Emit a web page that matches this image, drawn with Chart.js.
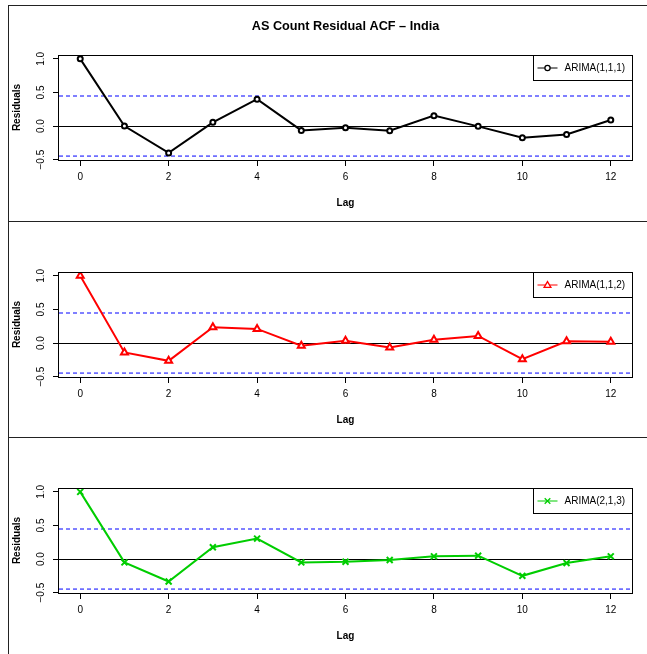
<!DOCTYPE html>
<html lang="en">
<head>
<meta charset="UTF-8">
<title>AS Count Residual ACF – India</title>
<script src="https://cdn.jsdelivr.net/npm/chart.js@4"></script>
<style>
  body { margin: 0; background: #fff; }
  #page { position: relative; width: 647px; height: 654px; overflow: hidden; background: #fff; }
  canvas { position: absolute; left: 0; }
  .rule { position: absolute; background: #222; }
</style>
</head>
<body>
<div id="page">
  <canvas id="acf1" width="647" height="216" style="top:5px"></canvas>
  <canvas id="acf2" width="647" height="216" style="top:222px"></canvas>
  <canvas id="acf3" width="647" height="216" style="top:438px"></canvas>
  <div class="rule" style="left:8px;top:5px;width:639px;height:1px"></div>
  <div class="rule" style="left:8px;top:5px;width:1px;height:649px"></div>
  <div class="rule" style="left:8px;top:221px;width:639px;height:1px"></div>
  <div class="rule" style="left:8px;top:437px;width:639px;height:1px"></div>
</div>
<script>
// --- data ---
const chartTitle = "AS Count Residual ACF – India";
const lags = [0, 1, 2, 3, 4, 5, 6, 7, 8, 9, 10, 11, 12];
const acfArima111 = [1.0, 0.0, -0.40, 0.055, 0.40, -0.065, -0.025, -0.07, 0.155, -0.005, -0.175, -0.125, 0.09];
const acfArima112 = [1.0, -0.14, -0.265, 0.235, 0.21, -0.04, 0.035, -0.065, 0.05, 0.105, -0.24, 0.025, 0.02];
const acfArima213 = [1.0, -0.05, -0.335, 0.175, 0.305, -0.05, -0.04, -0.015, 0.04, 0.05, -0.25, -0.06, 0.04];
const seriesLabels = ["ARIMA(1,1,1)", "ARIMA(1,1,2)", "ARIMA(2,1,3)"];
const confLimit = 0.447;
const xTicks = [0, 2, 4, 6, 8, 10, 12];
const yTicks = [-0.5, 0, 0.5, 1.0];

const FONT = "'Liberation Sans', Arial, Helvetica, sans-serif";
// R style axis ranges (4% extension)
const xMin = -0.48, xMax = 12.48;
const yMin = -0.5056, yMax = 1.0576;

// draw the frame round the plot region, like R's box()
const boxPlugin = {
	id: "plotBox",
	afterDraw(chart) {
		const { ctx, chartArea: a } = chart;
		ctx.save();
		ctx.strokeStyle = "#000";
		ctx.lineWidth = 1;
		ctx.strokeRect(a.left - 0.5, a.top + 0.5, a.right - a.left + 1, a.bottom - a.top);
		ctx.restore();
	},
};

function drawMarker(ctx, style, x, y, color) {
	ctx.save();
	ctx.strokeStyle = color;
	ctx.lineWidth = 1.3;
	ctx.beginPath();
	if (style === "circle") {
		ctx.fillStyle = "#fff";
		ctx.arc(x, y, 2.6, 0, Math.PI * 2);
		ctx.fill();
	} else if (style === "triangle") {
		ctx.fillStyle = "#fff";
		ctx.moveTo(x, y - 3.4);
		ctx.lineTo(x + 3.4, y + 2.4);
		ctx.lineTo(x - 3.4, y + 2.4);
		ctx.closePath();
		ctx.fill();
	} else {
		ctx.moveTo(x - 2.8, y - 2.8);
		ctx.lineTo(x + 2.8, y + 2.8);
		ctx.moveTo(x + 2.8, y - 2.8);
		ctx.lineTo(x - 2.8, y + 2.8);
	}
	ctx.stroke();
	ctx.restore();
}

// R style boxed legend in the top right corner of the plot
const boxLegendPlugin = {
	id: "boxLegend",
	afterDatasetsDraw(chart, args, opts) {
		const { ctx, chartArea: a } = chart;
		ctx.save();
		ctx.font = opts.fontSize + "px " + FONT;
		const tw = ctx.measureText(opts.text).width;
		const w = 26 + 5 + tw + 7;
		const h = 25;
		const left = Math.round(a.right - w) + 0.5;
		const top = a.top + 0.5;
		ctx.fillStyle = "#fff";
		ctx.fillRect(left, top, a.right + 0.5 - left, h);
		ctx.strokeStyle = "#000";
		ctx.lineWidth = 1;
		ctx.strokeRect(left, top, a.right + 0.5 - left, h);
		const cy = Math.round(top + h / 2);
		ctx.strokeStyle = opts.color;
		ctx.beginPath();
		ctx.moveTo(left + 4, cy);
		ctx.lineTo(left + 24, cy);
		ctx.stroke();
		drawMarker(ctx, opts.pointStyle, left + 14, cy, opts.color);
		ctx.fillStyle = "#000";
		ctx.textAlign = "left";
		ctx.textBaseline = "middle";
		ctx.fillText(opts.text, left + 31, cy);
		ctx.restore();
	},
};

function limitLine(y) {
	return {
		data: [{ x: xMin, y }, { x: xMax, y }],
		borderColor: "#0000ff",
		borderWidth: 1,
		borderDash: [4, 3],
		pointRadius: 0,
	};
}

function makeChart(id, values, label, color, pointStyle, pointRadius, showTitle) {
	return new Chart(document.getElementById(id), {
		type: "line",
		data: {
			datasets: [
				{
					label,
					data: lags.map((x, i) => ({ x, y: values[i] })),
					borderColor: color,
					borderWidth: 2,
					pointStyle,
					pointRadius,
					pointBorderWidth: 2,
					pointBorderColor: color,
					pointBackgroundColor: "#fff",
					tension: 0,
				},
				limitLine(confLimit),
				limitLine(-confLimit),
			],
		},
		options: {
			responsive: false,
			animation: false,
			events: [],
			layout: { padding: { top: showTitle ? 0 : 50, right: 15, bottom: 12, left: 0 } },
			plugins: {
				legend: { display: false },
				tooltip: { enabled: false },
				title: {
					display: showTitle,
					text: chartTitle,
					fullSize: false,
					color: "#000",
					font: { family: FONT, size: 12.7, weight: "bold" },
					padding: { top: 13.7, bottom: 21.06 },
				},
				boxLegend: { text: label, color, pointStyle, fontSize: 10 },
			},
			scales: {
				x: {
					type: "linear",
					min: xMin,
					max: xMax,
					afterBuildTicks: (s) => { s.ticks = xTicks.map((v) => ({ value: v })); },
					afterFit: (s) => { s.height = 49; },
					grid: { drawOnChartArea: false, drawTicks: true, tickLength: 6, color: "#000", tickColor: "#000" },
					border: { display: false },
					ticks: { padding: 5, autoSkip: false, maxRotation: 0, color: "#000", font: { family: FONT, size: 10 } },
					title: { display: true, text: "Lag", color: "#000", font: { family: FONT, size: 10, weight: "bold" }, padding: { top: 0, bottom: 0 } },
				},
				y: {
					type: "linear",
					min: yMin,
					max: yMax,
					afterBuildTicks: (s) => { s.ticks = yTicks.map((v) => ({ value: v })); },
					afterFit: (s) => { s.width = 59; },
					grid: {
						drawOnChartArea: true,
						drawTicks: true,
						tickLength: 6,
						tickColor: "#000",
						color: (c) => (c.tick && c.tick.value === 0 ? "#000" : "rgba(0,0,0,0)"),
					},
					border: { display: false },
					ticks: {
						minRotation: 90,
						maxRotation: 90,
						crossAlign: "center",
						padding: 2,
						autoSkip: false,
						color: "#000",
						font: { family: FONT, size: 10 },
						callback: (v) => v.toFixed(1).replace("-", "\u2212"),
					},
					title: { display: true, text: "Residuals", color: "#000", font: { family: FONT, size: 10, weight: "bold" }, padding: { top: 11, bottom: 0 } },
				},
			},
		},
		plugins: [boxPlugin, boxLegendPlugin],
	});
}

makeChart("acf1", acfArima111, seriesLabels[0], "#000000", "circle", 2.5, true);
makeChart("acf2", acfArima112, seriesLabels[1], "#ff0000", "triangle", 4, false);
makeChart("acf3", acfArima213, seriesLabels[2], "#00cd00", "crossRot", 4.2, false);
</script>
</body>
</html>
